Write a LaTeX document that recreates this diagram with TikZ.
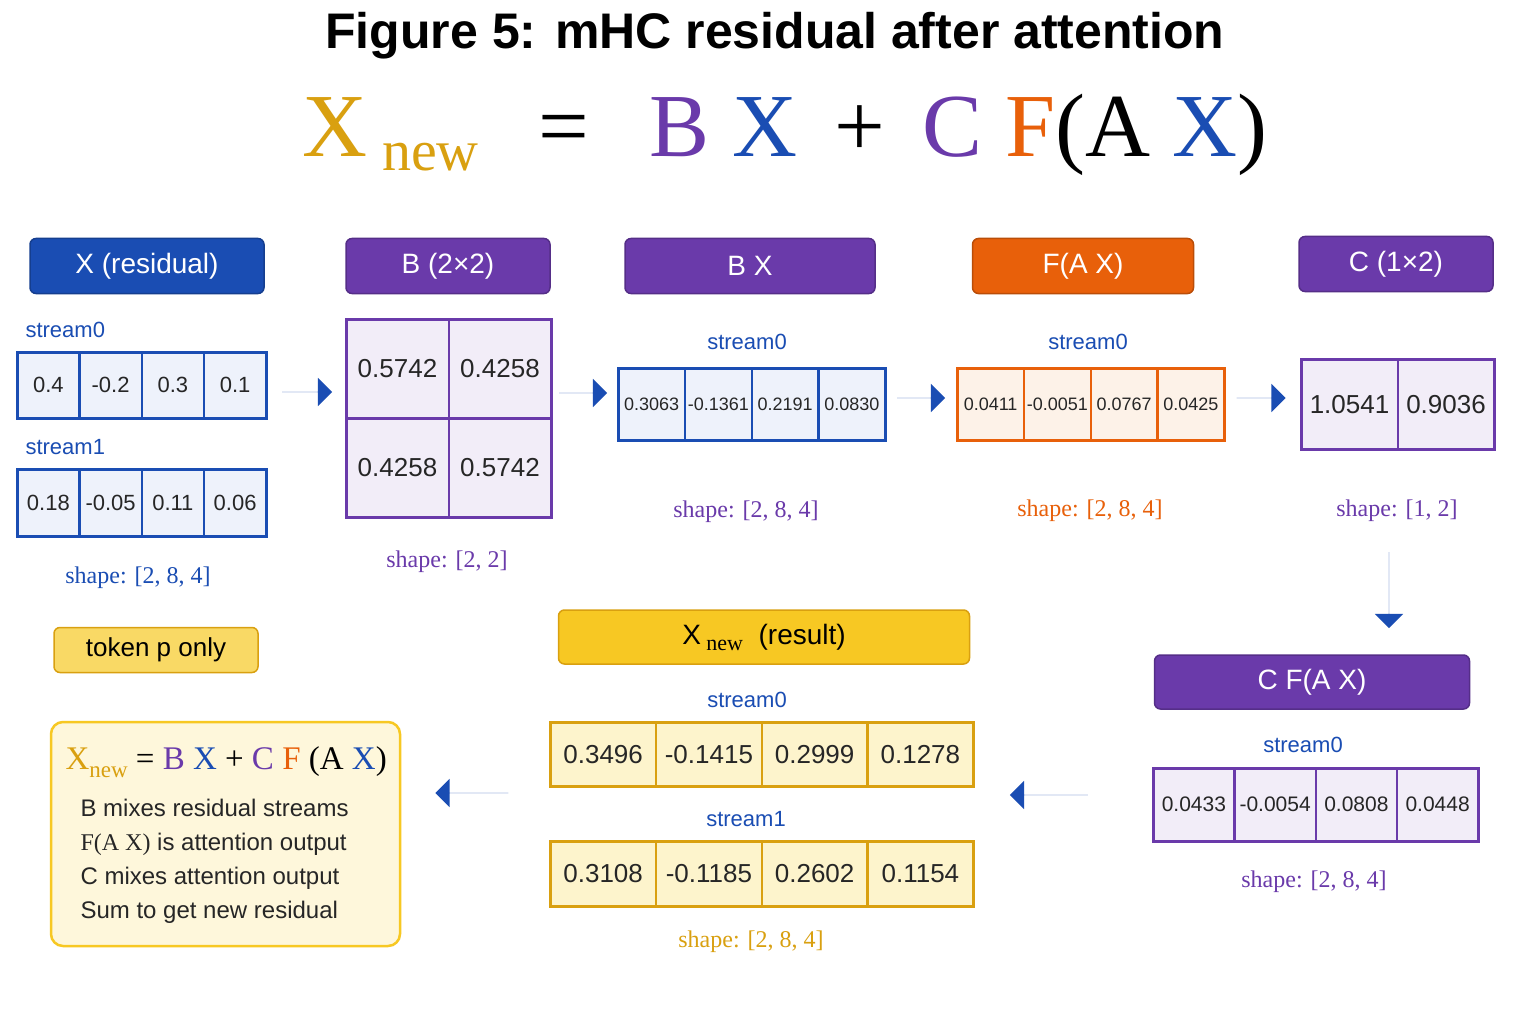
\documentclass[tikz,border=0pt]{standalone}
\usepackage{fontspec}
\setmainfont{Liberation Serif}
\setsansfont{Liberation Sans}
\usetikzlibrary{shapes.arrows}
\definecolor{cb}{HTML}{1A4DB3}
\definecolor{cp}{HTML}{6A3AAA}
\definecolor{co}{HTML}{E8600A}
\definecolor{cg}{HTML}{D9A010}
\definecolor{cy}{HTML}{F7C823}
\definecolor{fcb}{HTML}{EEF2FB}
\definecolor{fcp}{HTML}{F2EDF8}
\definecolor{fco}{HTML}{FDF2E8}
\definecolor{fcg}{HTML}{FDF4CC}
\newcommand\fs[1]{\fontsize{#1}{#1}\selectfont}
\newcommand\myrow[7]{\foreach \v [count=\i] in {#7} {\node[#6, minimum width=#4pt, minimum height=#5pt, anchor=north west] (#1\i) at ({#2+(\i-1)*#4},#3) {\v};}}
\tikzset{
 hdr/.style={rounded corners=6pt, draw=#1!80!black, fill=#1, line width=1.5pt, text=white, font=\sffamily\fs{28}, inner sep=0pt},
 cell/.style={draw=#1, line width=2.5pt, fill=f#1, font=\sffamily\fs{22}, inner sep=0pt, text=black!85},
 lbl/.style={font=\sffamily\fs{22}, text=cb},
 shp/.style={font=\rmfamily\fs{24}, text=#1},
 barr/.style={single arrow, fill=cb, draw=none, minimum height=#1pt, minimum width=24pt, single arrow head extend=14pt, single arrow head indent=0pt, inner sep=0pt, single arrow tip angle=90},
}
\begin{document}
\begin{tikzpicture}[x=1pt,y=-1pt]
\useasboundingbox[fill=white] (0,0) rectangle (1536,1024);
\node[font=\sffamily\bfseries\fs{50}] (title) at (775,36) {Figure 5: mHC residual after attention};
\node[font=\rmfamily\fs{90}] (eq) at (785,135) {\textcolor{cg}{X\,{\fs{58}\raisebox{-14pt}{new}}} \, = \, \textcolor{cp}{B} \textcolor{cb}{X} \,+\, \textcolor{cp}{C} \textcolor{co}{F}(A \textcolor{cb}{X})};
% headers
\node[hdr=cb, minimum width=234pt, minimum height=55pt] (hX) at (147,266) {X (residual)};
\node[hdr=cp, minimum width=204pt, minimum height=55pt] (hB) at (448,266) {B (2×2)};
\node[hdr=cp, minimum width=250pt, minimum height=55pt] (hBX) at (750,266) {B X};
\node[hdr=co, minimum width=221pt, minimum height=55pt] (hF) at (1083,266) {F(A X)};
\node[hdr=cp, minimum width=194pt, minimum height=55pt] (hC) at (1396,264) {C (1×2)};
% X
\node[lbl, anchor=west] (s0) at (22,330) {stream0};
\myrow{xa}{16}{351}{62.25}{66}{cell=cb}{0.4,-0.2,0.3,0.1}
\node[lbl, anchor=west] (s1) at (22,447) {stream1};
\myrow{xb}{16}{468}{62.25}{67}{cell=cb}{0.18,-0.05,0.11,0.06}
\node[shp=cb] (shX) at (138,578) {shape: [2, 8, 4]};
\node[barr=50] (a1) at (307,392) {};
% B
\myrow{ba}{345}{318}{102.5}{99}{cell=cp, font=\sffamily\fs{26}}{0.5742,0.4258}
\myrow{bb}{345}{417}{102.5}{99}{cell=cp, font=\sffamily\fs{26}}{0.4258,0.5742}
\node[shp=cp] (shB) at (447,562) {shape: [2, 2]};
\node[barr=48] (a2) at (583,393) {};
% BX
\node[lbl] (s2) at (747,342) {stream0};
\myrow{bx}{617}{367}{66.75}{72}{cell=cb, font=\sffamily\fs{18}}{0.3063,-0.1361,0.2191,0.0830}
\node[shp=cp] (shBX) at (746,512) {shape: [2, 8, 4]};
\node[barr=48] (a3) at (921,398) {};
% F
\node[lbl] (s3) at (1088,342) {stream0};
\myrow{fx}{956}{367}{66.75}{72}{cell=co, font=\sffamily\fs{18}}{0.0411,-0.0051,0.0767,0.0425}
\node[shp=co] (shF) at (1090,511) {shape: [2, 8, 4]};
\node[barr=49] (a4) at (1261,398) {};
% C
\myrow{cx}{1300}{358}{96.5}{90}{cell=cp, font=\sffamily\fs{26}}{1.0541,0.9036}
\node[shp=cp] (shC) at (1397,511) {shape: [1, 2]};
\node[barr=76, shape border rotate=270] (a5) at (1389,590) {};
% CF
\node[hdr=cp, minimum width=315pt, minimum height=54pt] (hCF) at (1312,682) {C F(A X)};
\node[lbl] (s4) at (1303,745) {stream0};
\myrow{cf}{1152}{767}{81.25}{73}{cell=cp, font=\sffamily\fs{21}}{0.0433,-0.0054,0.0808,0.0448}
\node[shp=cp] (shCF) at (1314,882) {shape: [2, 8, 4]};
\node[barr=78, shape border rotate=180] (a6) at (1049,795) {};
% result
\node[hdr=cy, text=black, draw=cg, minimum width=411pt, minimum height=54pt] (hR) at (764,637) {X{\rmfamily\fs{22}\raisebox{-6pt}{ new}}\ \ (result)};
\node[lbl] (s5) at (747,700) {stream0};
\myrow{ra}{549}{721}{105.75}{64}{cell=cg, font=\sffamily\fs{26}}{0.3496,-0.1415,0.2999,0.1278}
\node[lbl] (s6) at (746,819) {stream1};
\myrow{rb}{549}{840}{105.75}{65}{cell=cg, font=\sffamily\fs{26}}{0.3108,-0.1185,0.2602,0.1154}
\node[shp=cg] (shR) at (751,942) {shape: [2, 8, 4]};
\node[barr=73, shape border rotate=180] (a7) at (472,793) {};
% token
\node[hdr=cy, fill=cy!70, draw=cg, text=black, font=\sffamily\fs{26}, minimum width=204pt, minimum height=45pt] (tok) at (156,650) {token p only};
% summary
\node[draw=cy, line width=2.5pt, fill=fcg!70, rounded corners=12pt, minimum width=349pt, minimum height=224pt] (sum) at (225.5,834) {};
\node[font=\rmfamily\fs{33}, anchor=west] (seq) at (62,762) {\textcolor{cg}{X{\fs{23}\raisebox{-8pt}{new}}} = \textcolor{cp}{B} \textcolor{cb}{X} + \textcolor{cp}{C} \textcolor{co}{F} (A \textcolor{cb}{X})};
\node[font=\sffamily\fs{24}, anchor=north west, align=left, text=black!85] (stx) at (77,796) {B mixes residual streams\\[10pt]{\rmfamily F(A X)} is attention output\\[10pt]C mixes attention output\\[10pt]Sum to get new residual};
\end{tikzpicture}
\end{document}
